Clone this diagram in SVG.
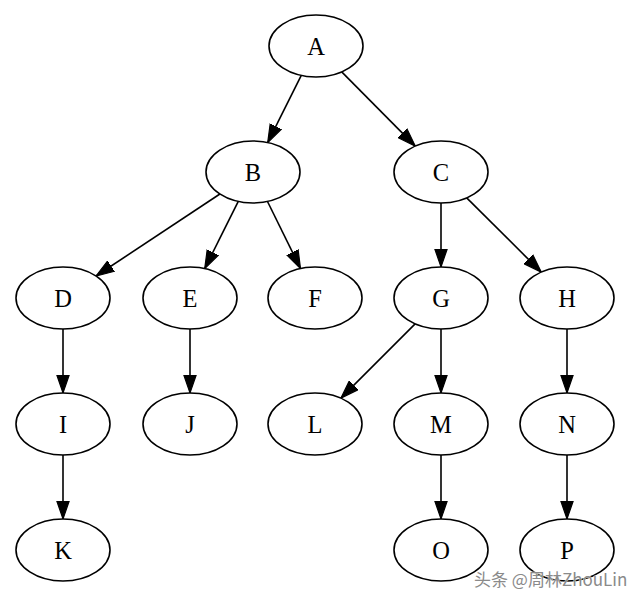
<svg xmlns="http://www.w3.org/2000/svg" width="640" height="602" viewBox="0 0 640 602">
<style>
.n ellipse{fill:#fff;stroke:#000;stroke-width:1.6}
.n text{font-family:"Liberation Serif","Times New Roman",serif;font-size:24.5px;text-anchor:middle;fill:#000}
.e line{stroke:#000;stroke-width:1.6;fill:none;marker-end:url(#ah)}
.wm{font-family:"Noto Sans CJK SC","Noto Sans",sans-serif;font-size:17px;fill:#8a8a8a;stroke:#fff;stroke-width:0.6;paint-order:stroke}
</style>
<defs>
<marker id="ah" markerUnits="userSpaceOnUse" markerWidth="20" markerHeight="14" refX="18" refY="7" orient="auto" viewBox="0 0 20 14">
<polygon points="0,0.8 18,7 0,13.2" fill="#000" stroke="#000" stroke-width="1.2"/>
</marker>
</defs>
<rect width="640" height="602" fill="#fff"/>
<g id="edges" class="e">
<line x1="301.3" y1="75.4" x2="267.7" y2="142.6"/>
<line x1="341.7" y1="71.9" x2="415.3" y2="146.1"/>
<line x1="219.9" y1="194.0" x2="96.1" y2="276.0"/>
<line x1="238.3" y1="201.4" x2="204.7" y2="268.6"/>
<line x1="267.5" y1="201.5" x2="300.5" y2="268.5"/>
<line x1="441" y1="203" x2="441" y2="267"/>
<line x1="466.7" y1="197.9" x2="541.3" y2="272.1"/>
<line x1="63" y1="329" x2="63" y2="393"/>
<line x1="190" y1="329" x2="190" y2="393"/>
<line x1="415.1" y1="323.9" x2="340.9" y2="398.1"/>
<line x1="441" y1="329" x2="441" y2="393"/>
<line x1="567" y1="329" x2="567" y2="393"/>
<line x1="63" y1="455" x2="63" y2="519"/>
<line x1="441" y1="455" x2="441" y2="519"/>
<line x1="567" y1="455" x2="567" y2="519"/>
</g>
<g id="A" class="n"><ellipse cx="316" cy="46" rx="47" ry="31"/><text x="316" y="54.5">A</text></g>
<g id="B" class="n"><ellipse cx="253" cy="172" rx="47" ry="31"/><text x="253" y="180.5">B</text></g>
<g id="C" class="n"><ellipse cx="441" cy="172" rx="47" ry="31"/><text x="441" y="180.5">C</text></g>
<g id="D" class="n"><ellipse cx="63" cy="298" rx="47" ry="31"/><text x="63" y="306.5">D</text></g>
<g id="E" class="n"><ellipse cx="190" cy="298" rx="47" ry="31"/><text x="190" y="306.5">E</text></g>
<g id="F" class="n"><ellipse cx="315" cy="298" rx="47" ry="31"/><text x="315" y="306.5">F</text></g>
<g id="G" class="n"><ellipse cx="441" cy="298" rx="47" ry="31"/><text x="441" y="306.5">G</text></g>
<g id="H" class="n"><ellipse cx="567" cy="298" rx="47" ry="31"/><text x="567" y="306.5">H</text></g>
<g id="I" class="n"><ellipse cx="63" cy="424" rx="47" ry="31"/><text x="63" y="432.5">I</text></g>
<g id="J" class="n"><ellipse cx="190" cy="424" rx="47" ry="31"/><text x="190" y="432.5">J</text></g>
<g id="L" class="n"><ellipse cx="315" cy="424" rx="47" ry="31"/><text x="315" y="432.5">L</text></g>
<g id="M" class="n"><ellipse cx="441" cy="424" rx="47" ry="31"/><text x="441" y="432.5">M</text></g>
<g id="N" class="n"><ellipse cx="567" cy="424" rx="47" ry="31"/><text x="567" y="432.5">N</text></g>
<g id="K" class="n"><ellipse cx="63" cy="550" rx="47" ry="31"/><text x="63" y="558.5">K</text></g>
<g id="O" class="n"><ellipse cx="441" cy="550" rx="47" ry="31"/><text x="441" y="558.5">O</text></g>
<g id="P" class="n"><ellipse cx="567" cy="550" rx="47" ry="31"/><text x="567" y="558.5">P</text></g>
<text class="wm" x="474" y="586">头条 @周林ZhouLin</text>
</svg>
